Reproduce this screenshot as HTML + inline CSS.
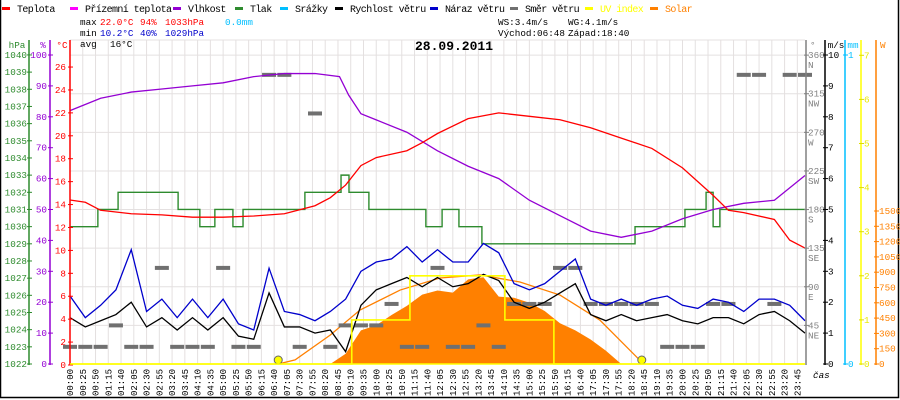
<!DOCTYPE html>
<html><head><meta charset="utf-8"><style>
html,body{margin:0;padding:0;background:#fff}
svg{display:block;font-family:"Liberation Mono",monospace}
</style></head><body>
<svg id="chart" width="900" height="400" viewBox="0 0 900 400" xmlns="http://www.w3.org/2000/svg">
<rect x="0" y="0" width="900" height="400" fill="#fff"/>
<rect x="0.5" y="-1" width="898" height="398.5" fill="none" stroke="#000" stroke-width="1.5"/>
<g id="grid"></g>
<g id="series"></g>
<g id="axes"></g>
<g id="legend" font-size="10"></g>
<g font-size="9.3">
 <text x="80" y="25">max</text>
 <text x="100" y="25" fill="#f00">22.0°C</text>
 <text x="140" y="25" fill="#f00">94%</text>
 <text x="165" y="25" fill="#f00">1033hPa</text>
 <text x="225" y="25" fill="#00bfff">0.0mm</text>
 <text x="80" y="36">min</text>
 <text x="100" y="36" fill="#00c">10.2°C</text>
 <text x="140" y="36" fill="#00c">40%</text>
 <text x="165" y="36" fill="#00c">1029hPa</text>
 <text x="80" y="47">avg</text>
 <text x="110" y="47">16°C</text>
 <text x="498" y="25">WS:3.4m/s</text>
 <text x="568" y="25">WG:4.1m/s</text>
 <text x="498" y="36">Východ:06:48</text>
 <text x="568" y="36">Západ:18:40</text>
 <text x="415" y="50" font-size="13" font-weight="bold">28.09.2011</text>
 <text x="813" y="378" font-style="italic">čas</text>
</g>
</svg>
<script>
// ---- data ----
const tempTimes=[0,0.5,1,2,3,4,5,6,7,8,8.5,9,9.5,10,11,11.5,12,13,14,15,16,17,18,19,20,21,21.5,22,23,23.5,24];
const tempVals=[14.4,14.2,13.5,13.2,13.1,12.9,12.9,13.0,13.2,13.9,14.6,15.7,17.4,18.1,18.7,19.4,20.2,21.5,22.0,21.7,21.4,20.7,19.8,18.9,17.2,14.8,13.5,13.3,12.7,10.9,10.2];
const humTimes=[0,1,2,3,4,5,6,7,8,8.8,9.1,9.5,10,11,12,13,14,15,16,17,18,19,20,21,22,23,23.5,24];
const humVals=[82,86,88,89,90,91,93,94,94,93,87,81,79,75,69,64,60,53,48,43,41,43,47,50,52,53,57,61];
const pressTimes=[0,0.91,1.57,3.53,4.24,4.73,5.32,5.65,7.67,8.85,9.11,9.76,11.62,12.15,12.7,13.45,18.45,20.08,20.77,21.0,21.22,24];
const pressVals=[1030,1031,1032,1031,1030,1031,1030,1031,1032,1033,1032,1031,1030,1031,1030,1029,1030,1031,1032,1030,1031,1031];
const gustVals=[2.2,1.5,1.9,2.4,3.7,1.7,2.1,1.5,2.1,1.5,2.1,1.3,1.1,3.1,1.7,1.6,1.4,1.7,2.1,3.0,3.3,3.4,3.8,3.3,3.7,3.3,3.3,3.9,3.6,2.6,2.4,2.6,3.0,3.4,2.1,1.9,2.1,1.9,2.1,2.2,1.9,1.8,2.1,2.0,1.7,2.1,2.1,1.9,1.4];
const speedVals=[1.5,1.2,1.4,1.6,2.0,1.2,1.5,1.1,1.5,1.1,1.5,0.9,0.8,2.3,1.2,1.2,1.0,1.1,0.4,1.9,2.4,2.6,2.8,2.5,2.8,2.5,2.6,2.9,2.7,2.0,1.8,2.0,2.3,2.6,1.6,1.4,1.6,1.4,1.5,1.6,1.4,1.3,1.5,1.5,1.3,1.6,1.7,1.4,1.0];
const dirVals=[20,20,20,45,20,20,112,20,20,20,112,20,20,337,337,20,292,20,45,45,45,70,20,20,112,20,20,45,20,70,70,70,112,112,70,70,70,70,70,20,20,20,70,70,337,337,70,337,337];
const solarVals=[0,0,0,0,0,0,0,0,0,0,0,0,0,0,0,0,0,0,100,330,380,480,570,680,720,700,830,850,660,650,600,520,400,330,240,130,0,0,0,0,0,0,0,0,0,0,0,0,0];
const clearTimes=[6.8,7.35,8.5,9.47,10.78,12.08,13.39,14.69,16.0,17.3,18.6,18.67];
const clearVals=[0,40,284,529,725,843,873,804,676,431,39,0];
const uvTimes=[0,9.2,11.1,14.2,15.8,24];
const uvVals=[0,1,2,1,0,0];
const sunTimes=[6.8,18.67];
const timeLabels=[];for(let m=0;m<=1425;m+=25){timeLabels.push(String(Math.floor(m/60)).padStart(2,'0')+':'+String(m%60).padStart(2,'0'));}
const tempTicks=[0,2,4,6,8,10,12,14,16,18,20,22,24,26];
const humTicks=[0,10,20,30,40,50,60,70,80,90,100];
const pressTicks=[1022,1023,1024,1025,1026,1027,1028,1029,1030,1031,1032,1033,1034,1035,1036,1037,1038,1039,1040];
const dirTicks=[45,90,135,180,225,270,315,360];
const dirNames=['NE','E','SE','S','SW','W','NW','N'];
const windTicks=[0,1,2,3,4,5,6,7,8,9,10];
const uvTicks=[0,1,2,3,4,5,6,7];
const solarTicks=[0,150,300,450,600,750,900,1050,1200,1350,1500];
// ---- scales ----
const X0=70,X1=805,YB=364,YT=40;
const xT=h=>X0+h*(X1-X0)/24;
const yC=t=>365-t*11.46;
const yH=p=>364-p*3.09;
const yP=v=>364-(v-1022)*17.17;
const yW=v=>364-v*30.9;
const yD=d=>364-d*0.858;
const yU=u=>364-u*44.1;
const yS=w=>364-w*0.102;
const NS='http://www.w3.org/2000/svg';
function mk(parent,tag,attrs){const e=document.createElementNS(NS,tag);for(const k in attrs)e.setAttribute(k,attrs[k]);parent.appendChild(e);return e;}
const G=document.getElementById('grid'),S=document.getElementById('series'),A=document.getElementById('axes'),L=document.getElementById('legend');
timeLabels.forEach((lb,i)=>{const x=xT(i*25/60);
 const l=mk(G,'line',{x1:x,x2:x,y1:YT,y2:YB,stroke:'#e4e0e0','stroke-width':1});
 
 
 const t=mk(A,'text',{x:0,y:0,'font-size':9,transform:`translate(${x+3},396) rotate(-90)`});
 t.textContent=lb;
 
 
});
dirTicks.concat([0]).forEach(d=>{const y=yD(d);
 const l=mk(G,'line',{x1:X0,x2:X1,y1:y,y2:y,stroke:'#e4e0e0','stroke-width':1});
 
 
});
mk(G,'line',{x1:X0,x2:X1,y1:YT,y2:YT,stroke:'#e4e0e0'});
function pathFrom(ts,vs,fx,fy,step){let d='';ts.forEach((t,i)=>{const x=fx(t),y=fy(vs[i]);if(i==0)d+=`M${x},${y}`;else{if(step)d+=`H${x}`;d+=`${step?'V':'L'}${step?y:x+','+y}`;}});return d;}
const half=Array.from({length:49},(_,i)=>i/2);
{let d=`M${xT(0)},${yS(0)}`;half.forEach((t,i)=>{d+=`L${xT(t)},${yS(solarVals[i])}`;});d+=`L${xT(24)},${yS(0)}Z`;
 const p=mk(S,'path',{d:d,fill:'#ff8000'});
 
 }
{const p=mk(S,'path',{d:pathFrom(clearTimes,clearVals,xT,yS,false),fill:'none',stroke:'#ff8000','stroke-width':1.3});
 
 }
dirVals.forEach((d,i)=>{const x=xT(half[i]),y=yD(d);
 const r=mk(S,'rect',{x:x-7,y:y-2,width:14,height:4,fill:'#707070'});
 
 });
{const p=mk(S,'path',{d:pathFrom(pressTimes,pressVals,xT,yP,true),fill:'none',stroke:'#2e8b2e','stroke-width':1.4});
 
 }
{const p=mk(S,'path',{d:pathFrom(humTimes,humVals,xT,yH,false),fill:'none',stroke:'#9400d3','stroke-width':1.3});
 
 }
{const p=mk(S,'path',{d:pathFrom(tempTimes,tempVals,xT,yC,false),fill:'none',stroke:'#f00','stroke-width':1.3});
 
 }
{const p=mk(S,'path',{d:pathFrom(half,gustVals,xT,yW,false),fill:'none',stroke:'#0000cc','stroke-width':1.3});
 
 }
{const p=mk(S,'path',{d:pathFrom(half,speedVals,xT,yW,false),fill:'none',stroke:'#000','stroke-width':1.3});
 
 }
{const p=mk(S,'path',{d:pathFrom(uvTimes,uvVals,xT,yU,true),fill:'none',stroke:'#ffff00','stroke-width':1.6});
 
 }
sunTimes.forEach(t=>{const c=mk(S,'circle',{cx:xT(t),cy:360,r:4,fill:'#ffff00',stroke:'#666','stroke-width':1});
 
 });
function vAxis(x,color,name){const l=mk(A,'line',{x1:x,x2:x,y1:YT,y2:YB+1,stroke:color,'stroke-width':1.5});
 
 }
function label(x,y,txt,color,anchor,name,size){const t=mk(A,'text',{x:x,y:y,fill:color,'text-anchor':anchor,'font-size':size||9.3});t.textContent=txt;
 
 return t;}
vAxis(29,'#2e8b2e','pressure-axis');vAxis(50,'#9400d3','humidity-axis');vAxis(70,'#f00','temperature-axis');
vAxis(806,'#808080','direction-axis');vAxis(825,'#000','wind-axis');vAxis(845,'#00bfff','rain-axis');vAxis(861,'#ffff00','uv-axis');vAxis(876,'#ff8000','solar-axis');
label(17,48,'hPa','#2e8b2e','middle','pressure-unit');label(43,48,'%','#9400d3','middle','humidity-unit');label(62,48,'°C','#f00','middle','temperature-unit');
pressTicks.forEach(v=>{const y=yP(v);mk(A,'line',{x1:27,x2:32,y1:y,y2:y,stroke:'#2e8b2e'});label(27,y+3,String(v),'#2e8b2e','end','pressure-tick-label');});
humTicks.forEach(v=>{const y=yH(v);mk(A,'line',{x1:48,x2:53,y1:y,y2:y,stroke:'#9400d3'});label(47,y+3,String(v),'#9400d3','end','humidity-tick-label');});
tempTicks.forEach(v=>{const y=yC(v);mk(A,'line',{x1:68,x2:73,y1:y,y2:y,stroke:'#f00'});label(66,y+3,String(v),'#f00','end','temperature-tick-label');});
mk(A,'line',{x1:X0,x2:X1,y1:YB,y2:YB,stroke:'#ffff00','stroke-width':1.6});
label(810,48,'°','#808080','start','direction-unit');label(836,48,'m/s','#000','middle','wind-unit');label(853,48,'mm','#00bfff','middle','rain-unit');label(880,48,'W','#ff8000','start','solar-unit');
dirTicks.forEach((v,i)=>{const y=yD(v);mk(A,'line',{x1:804,x2:809,y1:y,y2:y,stroke:'#808080'});label(808,y+3,String(v),'#808080','start','direction-tick-label');label(808,y+13,dirNames[i],'#808080','start','direction-name-label');});
windTicks.forEach(v=>{const y=yW(v);mk(A,'line',{x1:823,x2:828,y1:y,y2:y,stroke:'#000'});label(828,y+3,String(v),'#000','start','wind-tick-label');});
[0,1].forEach(v=>{const y=v?55:364;mk(A,'line',{x1:843,x2:848,y1:y,y2:y,stroke:'#00bfff'});label(848,y+3,String(v),'#00bfff','start','rain-tick-label');});
uvTicks.forEach(v=>{const y=yU(v);mk(A,'line',{x1:859,x2:864,y1:y,y2:y,stroke:'#dddd00'});label(864,y+3,String(v),'#e8e800','start','uv-tick-label');});
solarTicks.forEach(v=>{const y=yS(v);mk(A,'line',{x1:874,x2:879,y1:y,y2:y,stroke:'#ff8000'});label(879,y+3,String(v),'#ff8000','start','solar-tick-label');});
const legNames=['Teplota','Přízemní teplota','Vlhkost','Tlak','Srážky','Rychlost větru','Náraz větru','Směr větru','UV index','Solar'];
const legColors=['#f00','#ff00ff','#9400d3','#2e8b2e','#00bfff','#000','#0000cc','#707070','#ffff00','#ff8000'];
const legX=[2,70,173,235,280,335,430,510,585,650];
legNames.forEach((n,i)=>{const g=mk(L,'g',{});
 
 
 mk(g,'rect',{x:legX[i],y:7,width:8,height:3,fill:legColors[i]});
 const t=mk(g,'text',{x:legX[i]+15,y:12,fill:(i>=8?legColors[i]:'#000'),'letter-spacing':'-0.6'});t.textContent=n;});
</script>
</body></html>
